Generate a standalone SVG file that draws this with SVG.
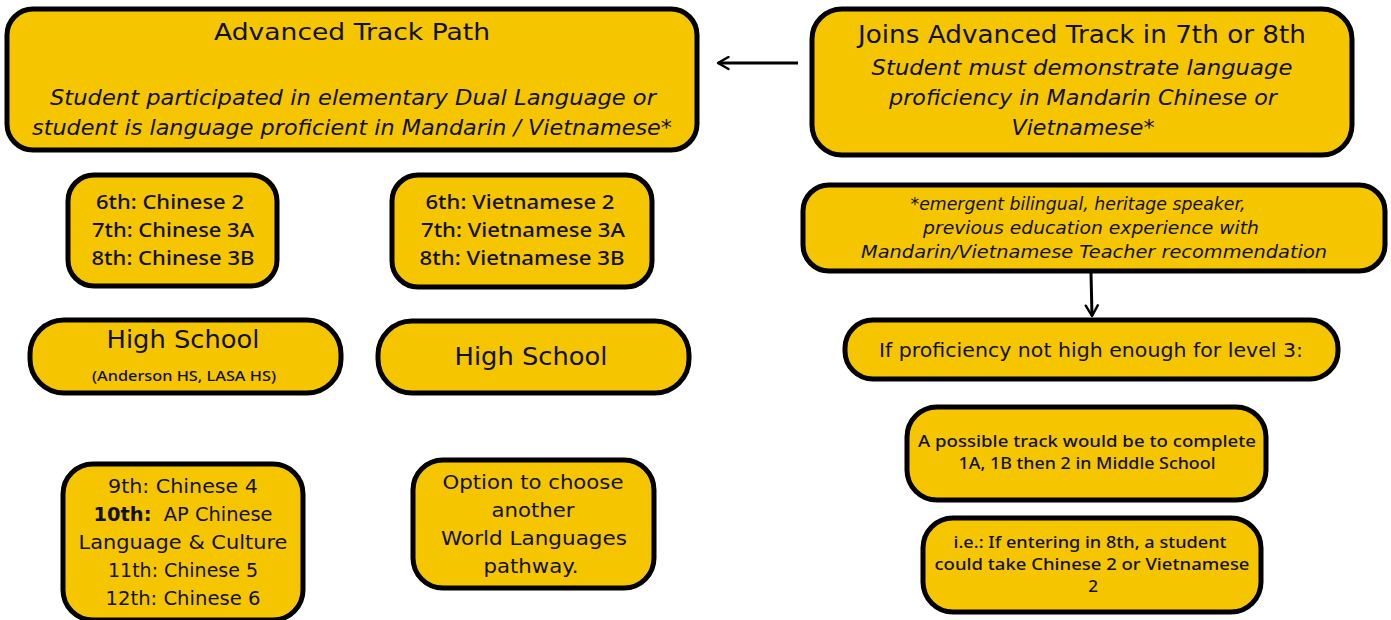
<svg xmlns="http://www.w3.org/2000/svg" width="1391" height="620" viewBox="0 0 1391 620">
<defs>
<style>
.box{fill:#F5C500;stroke:#000;stroke-width:5}
text{font-family:"DejaVu Sans","Noto Sans",sans-serif;fill:#111;text-anchor:middle}
.it{font-style:italic}
.m{font-family:"Noto Sans","DejaVu Sans",sans-serif;font-weight:500}
.conn{stroke:#000;stroke-width:3;fill:none}
</style>
<marker id="ah" viewBox="0 0 10 10" refX="8" refY="5" markerWidth="5" markerHeight="5" orient="auto-start-reverse" markerUnits="strokeWidth">
<path d="M1,1 L8,5 L1,9" fill="none" stroke="#000" stroke-width="1.6" stroke-linecap="round" stroke-linejoin="round"/>
</marker>
</defs>
<rect width="1391" height="620" fill="#fff"/>
<g id="connectors">
<line class="conn" x1="798" y1="63" x2="718" y2="63" marker-end="url(#ah)"/>
<line class="conn" x1="1091" y1="273" x2="1092" y2="316" marker-end="url(#ah)"/>
</g>
<g id="advanced">
<rect class="box" x="7" y="9" width="690" height="141" rx="26"/>
<text x="352" y="40" font-size="23.5" textLength="276" lengthAdjust="spacingAndGlyphs">Advanced Track Path</text>
<text class="it" x="353" y="105" font-size="21" textLength="606" lengthAdjust="spacingAndGlyphs">Student participated in elementary Dual Language or</text>
<text class="it" x="352" y="135" font-size="21" textLength="640" lengthAdjust="spacingAndGlyphs">student is language proficient in Mandarin / Vietnamese*</text>
</g>
<g id="joins">
<rect class="box" x="812" y="9" width="540" height="146" rx="30"/>
<text x="1082" y="43" font-size="24" textLength="448" lengthAdjust="spacingAndGlyphs">Joins Advanced Track in 7th or 8th</text>
<text class="it" x="1082" y="75" font-size="21" textLength="421" lengthAdjust="spacingAndGlyphs">Student must demonstrate language</text>
<text class="it" x="1083" y="105" font-size="21" textLength="388" lengthAdjust="spacingAndGlyphs">proficiency in Mandarin Chinese or</text>
<text class="it" x="1083" y="135" font-size="21" textLength="143" lengthAdjust="spacingAndGlyphs">Vietnamese*</text>
</g>
<g id="chinese-ms">
<rect class="box" x="68" y="175" width="209" height="111" rx="26"/>
<text class="m" x="170" y="209" font-size="20" textLength="148" lengthAdjust="spacingAndGlyphs">6th: Chinese 2</text>
<text class="m" x="173" y="237" font-size="20" textLength="162" lengthAdjust="spacingAndGlyphs">7th: Chinese 3A</text>
<text class="m" x="173" y="265" font-size="20" textLength="163" lengthAdjust="spacingAndGlyphs">8th: Chinese 3B</text>
</g>
<g id="vietnamese-ms">
<rect class="box" x="392" y="175" width="260" height="112" rx="26"/>
<text class="m" x="520" y="209" font-size="20" textLength="189" lengthAdjust="spacingAndGlyphs">6th: Vietnamese 2</text>
<text class="m" x="523" y="237" font-size="20" textLength="204" lengthAdjust="spacingAndGlyphs">7th: Vietnamese 3A</text>
<text class="m" x="522" y="265" font-size="20" textLength="205" lengthAdjust="spacingAndGlyphs">8th: Vietnamese 3B</text>
</g>
<g id="hs-chinese">
<rect class="box" x="30" y="320" width="311" height="73" rx="34"/>
<text x="183" y="348" font-size="25" textLength="153" lengthAdjust="spacingAndGlyphs">High School</text>
<text class="m" x="184" y="381" font-size="15" textLength="184" lengthAdjust="spacingAndGlyphs">(Anderson HS, LASA HS)</text>
</g>
<g id="hs-vietnamese">
<rect class="box" x="378" y="321" width="311" height="72" rx="34"/>
<text x="531" y="365" font-size="25" textLength="153" lengthAdjust="spacingAndGlyphs">High School</text>
</g>
<g id="emergent">
<rect class="box" x="803" y="185" width="582" height="86" rx="26"/>
<text class="it" x="1078" y="210" font-size="18" textLength="335" lengthAdjust="spacingAndGlyphs">*emergent bilingual, heritage speaker,</text>
<text class="it" x="1091" y="234" font-size="18" textLength="336" lengthAdjust="spacingAndGlyphs">previous education experience with</text>
<text class="it" x="1094" y="258" font-size="18" textLength="466" lengthAdjust="spacingAndGlyphs">Mandarin/Vietnamese Teacher recommendation</text>
</g>
<g id="proficiency">
<rect class="box" x="845" y="320" width="493" height="59" rx="28"/>
<text x="1091" y="357" font-size="19" textLength="424" lengthAdjust="spacingAndGlyphs">If proficiency not high enough for level 3:</text>
</g>
<g id="possible">
<rect class="box" x="907" y="407" width="359" height="93" rx="30"/>
<text class="m" x="1087" y="447" font-size="17" textLength="338" lengthAdjust="spacingAndGlyphs">A possible track would be to complete</text>
<text class="m" x="1087" y="469" font-size="17" textLength="257" lengthAdjust="spacingAndGlyphs">1A, 1B then 2 in Middle School</text>
</g>
<g id="example">
<rect class="box" x="923" y="518" width="338" height="94" rx="30"/>
<text class="m" x="1090" y="548" font-size="17" textLength="273" lengthAdjust="spacingAndGlyphs">i.e.: If entering in 8th, a student</text>
<text class="m" x="1092" y="570" font-size="17" textLength="315" lengthAdjust="spacingAndGlyphs">could take Chinese 2 or Vietnamese</text>
<text class="m" x="1093" y="592" font-size="17">2</text>
</g>
<g id="chinese-hs">
<rect class="box" x="63" y="464" width="240" height="156" rx="30"/>
<text x="183" y="493" font-size="20" textLength="150" lengthAdjust="spacingAndGlyphs">9th: Chinese 4</text>
<text x="183" y="521" font-size="20" textLength="179" lengthAdjust="spacingAndGlyphs" xml:space="preserve"><tspan font-weight="700">10th:</tspan>  AP Chinese</text>
<text x="183" y="549" font-size="20" textLength="209" lengthAdjust="spacingAndGlyphs">Language &amp; Culture</text>
<text x="183" y="577" font-size="20" textLength="150" lengthAdjust="spacingAndGlyphs">11th: Chinese 5</text>
<text x="183" y="605" font-size="20" textLength="155" lengthAdjust="spacingAndGlyphs">12th: Chinese 6</text>
</g>
<g id="option">
<rect class="box" x="413" y="460" width="241" height="128" rx="30"/>
<text x="533" y="489" font-size="20" textLength="181" lengthAdjust="spacingAndGlyphs">Option to choose</text>
<text x="533" y="517" font-size="20" textLength="83" lengthAdjust="spacingAndGlyphs">another</text>
<text x="534" y="545" font-size="20" textLength="186" lengthAdjust="spacingAndGlyphs">World Languages</text>
<text x="531" y="573" font-size="20" textLength="95" lengthAdjust="spacingAndGlyphs">pathway.</text>
</g>
</svg>
